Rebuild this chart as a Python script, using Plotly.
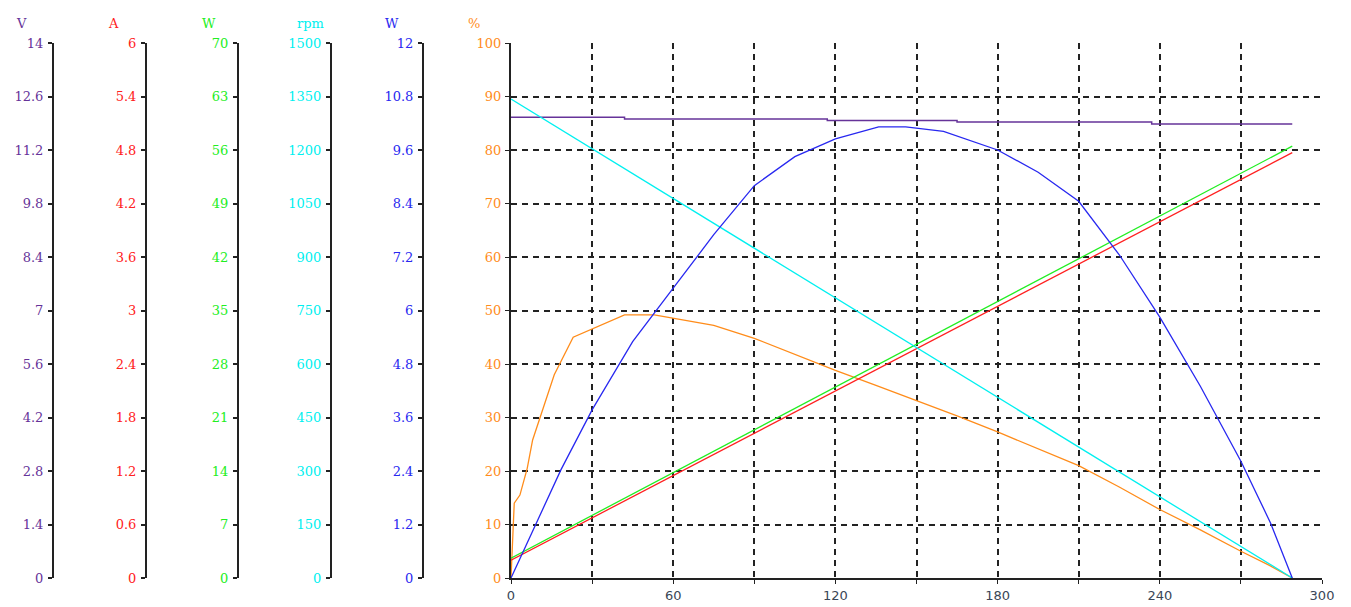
import plotly.graph_objects as go

W, H = 1351, 607

# ---------------- data ----------------
# voltage (V) - stepped line
volt_t = [0, 42, 117, 165, 237, 289]
volt_v = [12.06, 12.01, 11.97, 11.93, 11.88, 11.88]

# current (A)
cur_t = [0, 289]
cur_v = [0.20, 4.77]

# input power (W)
pin_t = [0, 289]
pin_v = [2.6, 56.5]

# speed (rpm)
spd_t = [0, 289]
spd_v = [1343, 0]

# output power (W)
pout_t = [0, 18.5, 30, 45, 60, 75, 90, 105, 120, 136, 146, 160, 180, 195, 210, 225, 240, 255, 270, 281, 289]
pout_v = [0, 2.43, 3.77, 5.3, 6.5, 7.7, 8.8, 9.45, 9.85, 10.12, 10.12, 10.02, 9.6, 9.1, 8.45, 7.25, 5.85, 4.3, 2.62, 1.23, 0]

# efficiency (%)
eff_t = [0, 0.7, 1.2, 3.3, 6, 8, 12, 16, 23, 30, 42, 53, 60, 75, 90, 105, 120, 135, 150, 165, 180, 195, 210, 225, 240, 255, 270, 280, 289]
eff_v = [0, 7, 14, 15.5, 20.5, 25.8, 32, 38, 45, 46.5, 49.2, 49.2, 48.6, 47.2, 44.8, 41.8, 38.8, 36, 33.2, 30.3, 27.3, 24.2, 21, 17, 12.8, 9, 5, 2.5, 0]

x_ticks = [0, 30, 60, 90, 120, 150, 180, 210, 240, 270, 300]
x_labels = ["0", "", "60", "", "120", "", "180", "", "240", "", "300"]

v_ticks = ["0", "1.4", "2.8", "4.2", "5.6", "7", "8.4", "9.8", "11.2", "12.6", "14"]
a_ticks = ["0", "0.6", "1.2", "1.8", "2.4", "3", "3.6", "4.2", "4.8", "5.4", "6"]
pin_ticks = ["0", "7", "14", "21", "28", "35", "42", "49", "56", "63", "70"]
rpm_ticks = ["0", "150", "300", "450", "600", "750", "900", "1050", "1200", "1350", "1500"]
pout_ticks = ["0", "1.2", "2.4", "3.6", "4.8", "6", "7.2", "8.4", "9.6", "10.8", "12"]
eff_ticks = ["0", "10", "20", "30", "40", "50", "60", "70", "80", "90", "100"]

axis_units = ["V", "A", "W", "rpm", "W", "%"]

# ---------------- styles ----------------
C_V = "#663399"
C_A = "#FF2020"
C_PIN = "#22EE22"
C_RPM = "#00F0F0"
C_POUT = "#2828F0"
C_EFF = "#FF8C1A"
AX = "#222222"
SERIF = "DejaVu Serif"

x0 = 511 / W
x1 = 1322 / W
y0 = 1 - 578 / H
y1 = 1 - 43 / H

fig = go.Figure()

fig.add_trace(go.Scatter(x=spd_t, y=spd_v, yaxis="y5", mode="lines",
                         line=dict(color=C_RPM, width=1.3)))
fig.add_trace(go.Scatter(x=eff_t, y=eff_v, yaxis="y", mode="lines",
                         line=dict(color=C_EFF, width=1.3)))
fig.add_trace(go.Scatter(x=pin_t, y=pin_v, yaxis="y4", mode="lines",
                         line=dict(color=C_PIN, width=1.3)))
fig.add_trace(go.Scatter(x=cur_t, y=cur_v, yaxis="y3", mode="lines",
                         line=dict(color=C_A, width=1.3)))
fig.add_trace(go.Scatter(x=pout_t, y=pout_v, yaxis="y6", mode="lines",
                         line=dict(color=C_POUT, width=1.3)))
fig.add_trace(go.Scatter(x=volt_t, y=volt_v, yaxis="y2", mode="lines",
                         line=dict(color=C_V, width=1.5, shape="hv")))


def side_axis(pos, top, labels, color):
    step = top / 10
    return dict(
        anchor="free", overlaying="y", side="left", position=pos,
        domain=[y0, y1], range=[0, top], automargin=False,
        tickvals=[i * step for i in range(11)], ticktext=labels,
        showgrid=False, zeroline=False,
        showline=True, linecolor=AX, linewidth=2,
        ticks="outside", ticklen=4, tickcolor=AX, tickwidth=1.5,
        tickfont=dict(family=SERIF, size=13, color=color),
        ticklabelstandoff=2,
    )


grid_dash = "6px,5px"
fig.update_layout(
    width=W, height=H, autosize=False,
    margin=dict(l=0, r=0, t=0, b=0, pad=0),
    paper_bgcolor="white", plot_bgcolor="white",
    showlegend=False,
    xaxis=dict(
        domain=[x0, x1], range=[0, 300], automargin=False,
        tickvals=x_ticks, ticktext=x_labels,
        showgrid=True, gridcolor=AX, gridwidth=1.6, griddash=grid_dash,
        zeroline=False, showline=True, linecolor=AX, linewidth=2,
        ticks="outside", ticklen=4, tickcolor=AX,
        tickfont=dict(family="DejaVu Sans", size=13, color="#3A4656"),
    ),
    yaxis=dict(
        domain=[y0, y1], range=[0, 100], automargin=False,
        tickvals=[i * 10 for i in range(11)], ticktext=eff_ticks,
        showgrid=True, gridcolor=AX, gridwidth=1.6, griddash=grid_dash,
        zeroline=False, showline=True, linecolor=AX, linewidth=2,
        ticks="outside", ticklen=4, tickcolor=AX,
        tickfont=dict(family=SERIF, size=13, color=C_EFF),
        ticklabelstandoff=1,
    ),
    yaxis2=side_axis(53 / W, 14, v_ticks, C_V),
    yaxis3=side_axis(146 / W, 6, a_ticks, C_A),
    yaxis4=side_axis(238 / W, 70, pin_ticks, C_PIN),
    yaxis5=side_axis(331 / W, 1500, rpm_ticks, C_RPM),
    yaxis6=side_axis(423 / W, 12, pout_ticks, C_POUT),
)

title_x = [14, 106, 200, 295, 383, 474]
title_c = [C_V, C_A, C_PIN, C_RPM, C_POUT, C_EFF]
for u, px, c in zip(axis_units, title_x, title_c):
    fig.add_annotation(x=px / W, y=1 - 14 / H, xref="paper", yref="paper",
                       text=u, showarrow=False,
                       font=dict(family=SERIF, size=13, color=c))

fig.write_html("out.html", config={"displayModeBar": False},
               post_script="document.body.style.margin='0';document.body.style.overflow='hidden';")
